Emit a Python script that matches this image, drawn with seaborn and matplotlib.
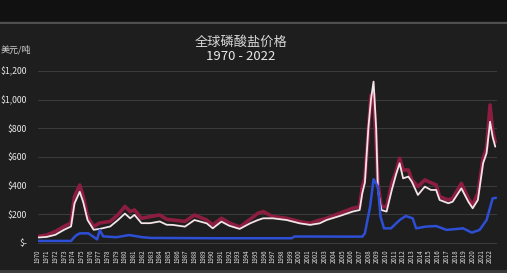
import matplotlib
matplotlib.use("Agg")
import matplotlib.pyplot as plt
import seaborn as sns
import pandas as pd
from matplotlib.patches import Rectangle
from matplotlib.lines import Line2D

# ---- data ----
rw_years = [1970.0, 1971.0, 1972.0, 1973.0, 1973.8, 1974.2, 1974.8, 1975.2, 1975.7, 1976.4,
            1977.1, 1978.3, 1979.2, 1980.0, 1980.6, 1981.1, 1981.9, 1982.9, 1984.0, 1984.8,
            1985.5, 1986.9, 1988.0, 1989.4, 1990.1, 1991.1, 1992.0, 1993.2, 1994.4, 1995.3,
            1995.9, 1997.0, 1998.6, 2000.1, 2001.3, 2002.4, 2003.2, 2004.7, 2006.2, 2007.0,
            2007.3, 2007.6, 2008.0, 2008.3, 2008.6, 2008.9, 2009.1, 2009.5, 2010.1, 2010.7,
            2011.2, 2011.6, 2012.0, 2012.6, 2013.0, 2013.7, 2014.5, 2015.2, 2015.8, 2016.2,
            2017.2, 2017.7, 2018.7, 2019.5, 2020.0, 2020.6, 2021.2, 2021.6, 2022.0, 2022.3,
            2022.6]
red_values = [46, 55, 80, 115, 140, 323, 404, 323, 184, 115,
              139, 150, 196, 255, 219, 230, 172, 184, 195, 165,
              160, 150, 195, 160, 126, 172, 140, 111, 165, 207,
              219, 184, 172, 149, 137, 160, 172, 207, 242, 253,
              393, 450, 780, 1030, 1045, 700, 420, 253, 253, 416,
              500, 591, 509, 509, 440, 393, 440, 420, 405, 323,
              300, 312, 416, 312, 265, 346, 591, 661, 963, 780,
              705]
white_values = [38, 42, 57, 92, 115, 276, 357, 285, 160, 92,
                98, 115, 160, 205, 172, 196, 138, 138, 150, 127,
                126, 114, 160, 137, 102, 149, 120, 98, 137, 160,
                172, 172, 160, 137, 126, 137, 160, 188, 219, 230,
                346, 420, 800, 1000, 1126, 800, 370, 230, 219, 370,
                480, 556, 451, 463, 428, 335, 393, 370, 370, 300,
                277, 288, 381, 288, 242, 300, 556, 626, 846, 740,
                672]
blue_years = [1970.0, 1973.8, 1974.3, 1974.8, 1975.8, 1976.3, 1976.8, 1977.1, 1977.5, 1979.0,
              1980.5, 1982.0, 1983.0, 1990.0, 1999.2, 1999.5, 2007.3, 2007.6, 2008.2, 2008.6,
              2009.1, 2009.4, 2009.8, 2010.6, 2011.6, 2012.3, 2013.1, 2013.5, 2014.6, 2015.8,
              2017.0, 2018.9, 2019.9, 2020.8, 2021.6, 2022.3, 2022.7]
blue_values = [14, 14, 49, 67, 67, 46, 25, 90, 46, 40,
               55, 40, 35, 33, 33, 45, 44, 67, 253, 445,
               393, 184, 102, 102, 160, 188, 172, 102, 114, 118,
               91, 102, 72, 91, 160, 311, 315]

year_labels = [str(y) for y in range(1970, 2023)]
y_ticks = [0, 200, 400, 600, 800, 1000, 1200]
y_labels = ["$-", "$200", "$400", "$600", "$800", "$1,000", "$1,200"]
title_line1 = "全球磷酸盐价格"
title_line2 = "1970 - 2022"
unit_label = "美元/吨"

sns.set_theme(style="dark")
plt.rcParams["font.family"] = ["Noto Sans CJK SC", "DejaVu Sans"]

BG = "#1e1e1f"
fig = plt.figure(figsize=(5.07, 2.73), dpi=100, facecolor=BG)
# top black band and separator line
fig.patches.append(Rectangle((0, 1 - 21 / 273), 1, 21 / 273, transform=fig.transFigure,
                             facecolor="#111112", edgecolor="none", zorder=0))
fig.lines.append(Line2D([0, 1], [1 - 22.5 / 273, 1 - 22.5 / 273], transform=fig.transFigure,
                        color="#5a5a5a", lw=1.2, zorder=1))
fig.patches.append(Rectangle((0, 0), 1, 3 / 273, transform=fig.transFigure,
                             facecolor="#3a3a3a", edgecolor="none", zorder=0))

ax = fig.add_axes([38 / 507, 27.9 / 273, (497 - 38) / 507, (245.1 - 66.7) / 273])
ax.set_facecolor(BG)

df_rw = pd.DataFrame({"year": rw_years, "red": red_values, "white": white_values})
df_b = pd.DataFrame({"year": blue_years, "blue": blue_values})

sns.lineplot(data=df_rw, x="year", y="red", ax=ax, color="#8c1d40", lw=2.6, sort=False, zorder=3)
sns.lineplot(data=df_rw, x="year", y="white", ax=ax, color="#f3e4e8", lw=1.3, sort=False, zorder=4)
sns.lineplot(data=df_b, x="year", y="blue", ax=ax, color="#2d4fd6", lw=1.8, sort=False, zorder=5)

ax.set_xlim(1970, 2022.8)
ax.set_ylim(-15, 1230)
ax.set_yticks(y_ticks)
ax.set_yticklabels(y_labels, color="#e8e8e8", fontsize=6.3)
ax.set_xticks(list(range(1970, 2023)))
ax.set_xticklabels(year_labels, rotation=90, color="#e0e0e0", fontsize=4.4)
ax.tick_params(axis="both", length=0, pad=3)
ax.tick_params(axis="y", pad=8)
ax.grid(axis="y", color="#3a3a3c", lw=0.8)
ax.grid(axis="x", visible=False)
for s in ax.spines.values():
    s.set_visible(False)
ax.set_xlabel("")
ax.set_ylabel("")

fig.text(0.475, 1 - 42 / 273, title_line1, ha="center", va="center", color="#d8d8d8", fontsize=9.5)
fig.text(0.475, 1 - 57 / 273, title_line2, ha="center", va="center", color="#e8e8e8", fontsize=9.5)
fig.text(0.002, 1 - 50 / 273, unit_label, ha="left", va="center", color="#d0d0d0", fontsize=6.5)

fig.savefig("out.png", dpi=100, facecolor=BG)
